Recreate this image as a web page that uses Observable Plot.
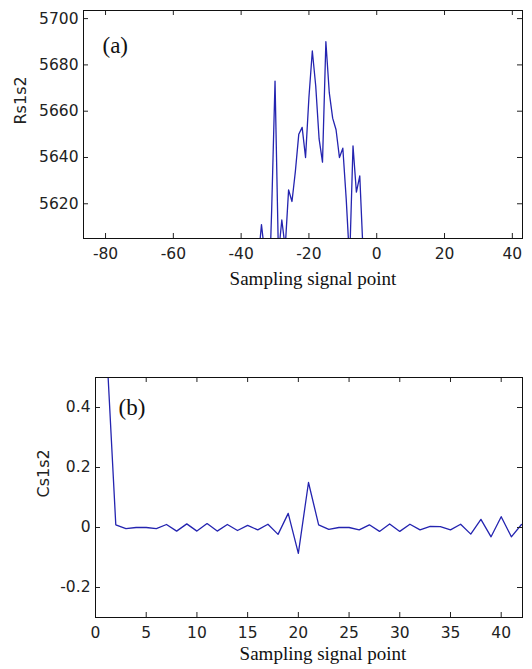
<!DOCTYPE html>
<html><head><meta charset="utf-8">
<script src="https://cdn.jsdelivr.net/npm/d3@7"></script>
<script src="https://cdn.jsdelivr.net/npm/@observablehq/plot@0.6"></script>
<style>
body{margin:0;background:#fff;}
#wrap{width:532px;}
svg{display:block;}
</style></head><body><div id="wrap"></div>
<script>
// Panel (a): cross-correlation Rs1s2 vs lag
const lagsA = [-36,-35,-34,-33,-32,-31,-30,-29,-28,-27,-26,-25,-24,-23,-22,-21,-20,-19,-18,-17,-16,-15,-14,-13,-12,-11,-10,-9,-8,-7,-6,-5,-4,-3];
const rA = [5585,5595,5611,5598,5570,5617,5673,5598,5613,5601,5626,5621,5634,5650,5653,5640,5666,5686,5671,5648,5638,5690,5668,5657,5652,5640,5644,5622,5595,5645,5625,5632,5598,5580];
const xTicksA = [-80,-60,-40,-20,0,20,40];
const yTicksA = [5620,5640,5660,5680,5700];
const yLabelA = "Rs1s2";
const tagA = "(a)";

// Panel (b): correlation coefficient Cs1s2 vs sampling point
const pointsB = [1,2,3,4,5,6,7,8,9,10,11,12,13,14,15,16,17,18,19,20,21,22,23,24,25,26,27,28,29,30,31,32,33,34,35,36,37,38,39,40,41,42];
const cB = [0.66,0.009,-0.004,0,0,-0.004,0.01,-0.012,0.012,-0.012,0.013,-0.012,0.01,-0.01,0.007,-0.008,0.011,-0.023,0.047,-0.086,0.15,0.009,-0.006,0,0,-0.008,0.009,-0.013,0.012,-0.013,0.011,-0.008,0.004,0.003,-0.008,0.011,-0.022,0.027,-0.031,0.036,-0.031,0.01];
const xTicksB = [0,5,10,15,20,25,30,35,40];
const yTicksB = [-0.2,0,0.2,0.4];
const yLabelB = "Cs1s2";
const tagB = "(b)";

const xLabel = "Sampling signal point";

function panel(o) {
  const W = o.width - o.ml - o.mr, H = o.height - o.mt - o.mb;
  const data = o.x.map((v, i) => ({x: v, y: o.y[i]}));
  return Plot.plot({
    width: o.width, height: o.height,
    marginTop: o.mt, marginBottom: o.mb, marginLeft: o.ml, marginRight: o.mr,
    style: {fontFamily: "DejaVu Sans", fontSize: "15px", color: "#222", background: "#fff", overflow: "visible"},
    x: {domain: o.xDomain},
    y: {domain: o.yDomain},
    marks: [
      Plot.line(data, {x: "x", y: "y", stroke: "#2424b0", strokeWidth: 1.3, clip: true}),
      Plot.axisX(o.xTicks, {tickSize: 0, tickPadding: 9, tickFormat: d => String(d), label: null, fontSize: 15.5}),
      Plot.axisY(o.yTicks, {tickSize: 0, tickPadding: 5, tickFormat: d => String(d), label: null, fontSize: 15.5}),
      Plot.tickX(o.xTicks, {x: d => d, insetTop: H - 5}),
      Plot.tickX(o.xTicks, {x: d => d, insetBottom: H - 5}),
      Plot.tickY(o.yTicks, {y: d => d, insetRight: W - 5}),
      Plot.tickY(o.yTicks, {y: d => d, insetLeft: W - 5}),
      Plot.frame({stroke: "#111"}),
      Plot.text([o.tag], {text: d => d, frameAnchor: "top-left", dx: o.tagDx, dy: o.tagDy, fontFamily: "Liberation Serif", fontSize: 23, fill: "#111"}),
      Plot.text([o.yLabel], {text: d => d, frameAnchor: "left", rotate: -90, dx: o.yLabelDx, fontSize: 16, fill: "#222"}),
      Plot.text([xLabel], {text: d => d, frameAnchor: "bottom", dx: o.titleDx, dy: o.titleDy, fontFamily: "Liberation Serif", fontSize: 19, fill: "#111"})
    ]
  });
}

const wrap = document.getElementById("wrap");
wrap.appendChild(panel({
  x: lagsA, y: rA, xDomain: [-86.5, 43], yDomain: [5605, 5703.5],
  xTicks: xTicksA, yTicks: yTicksA, yLabel: yLabelA, tag: tagA,
  width: 532, height: 300, mt: 10, mb: 62, ml: 83, mr: 10,
  yLabelDx: -63, titleDx: 10, titleDy: 46, tagDx: 19, tagDy: 26
}));
wrap.appendChild(panel({
  x: pointsB, y: cB, xDomain: [0, 42.1], yDomain: [-0.3, 0.5],
  xTicks: xTicksB, yTicks: yTicksB, yLabel: yLabelB, tag: tagB,
  width: 532, height: 369, mt: 77, mb: 52, ml: 95, mr: 10,
  yLabelDx: -52, titleDx: 14, titleDy: 42, tagDx: 23, tagDy: 21
}));
</script>
</body></html>
